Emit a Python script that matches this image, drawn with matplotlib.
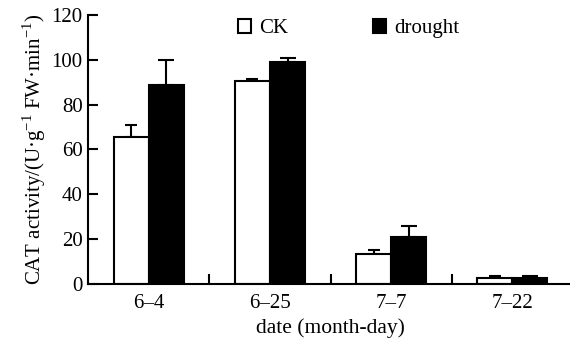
import numpy as np
import matplotlib.pyplot as plt
from matplotlib.ticker import FixedLocator

plt.rcParams['font.family'] = 'Liberation Serif'
plt.rcParams['mathtext.fontset'] = 'custom'
plt.rcParams['mathtext.rm'] = 'Liberation Serif'

# data
dates = ['6–4', '6–25', '7–7', '7–22']
ck = [65.7, 90.7, 13.3, 2.8]
ck_err = [5.4, 0.7, 1.8, 0.6]
drought = [88.6, 99.0, 21.0, 2.5]
drought_err = [11.3, 1.7, 4.7, 0.9]

x = np.arange(len(dates))
w = 0.29

fig = plt.figure(figsize=(5.7, 3.46), dpi=100)
ax = fig.add_axes([0.155, 0.179, 0.85, 0.778])

ax.bar(x - w / 2, ck, w, color='white', edgecolor='black', linewidth=1.5, label='CK', zorder=2)
ax.bar(x + w / 2, drought, w, color='black', edgecolor='black', linewidth=1.5, label='drought', zorder=2)
ax.errorbar(x - w / 2, ck, yerr=[np.zeros(4), ck_err], fmt='none', ecolor='black',
            elinewidth=1.5, capsize=4.5, capthick=1.5, zorder=1)
ax.errorbar(x + w / 2, drought, yerr=[np.zeros(4), drought_err], fmt='none', ecolor='black',
            elinewidth=1.5, capsize=6, capthick=1.5, zorder=1)

ax.set_xlim(-0.5, 3.5)
ax.set_ylim(0, 120)
ax.set_yticks(range(0, 121, 20))
ax.set_xticks(x)
ax.set_xticklabels(dates)
ax.xaxis.set_minor_locator(FixedLocator([0.5, 1.5, 2.5]))
ax.tick_params(axis='x', which='major', length=0, labelsize=15, pad=7)
ax.tick_params(axis='x', which='minor', direction='in', length=7, width=1.5)
ax.tick_params(axis='y', direction='in', length=7, width=1.5, labelsize=15, pad=4)

for s in ['top', 'right']:
    ax.spines[s].set_visible(False)
for s in ['left', 'bottom']:
    ax.spines[s].set_linewidth(1.5)

ax.set_xlabel('date (month-day)', fontsize=15.5, labelpad=4)
ax.set_ylabel('CAT activity/(U·g$^{-1}$ FW·min$^{-1}$)', fontsize=15, labelpad=3)

ax.legend(loc='upper left', bbox_to_anchor=(0.308, 0.985), ncol=2, frameon=False,
          fontsize=15, handlelength=0.65, handleheight=0.65, handletextpad=0.4,
          columnspacing=4.05, borderpad=0, borderaxespad=0)

fig.savefig('out.png', dpi=100)
